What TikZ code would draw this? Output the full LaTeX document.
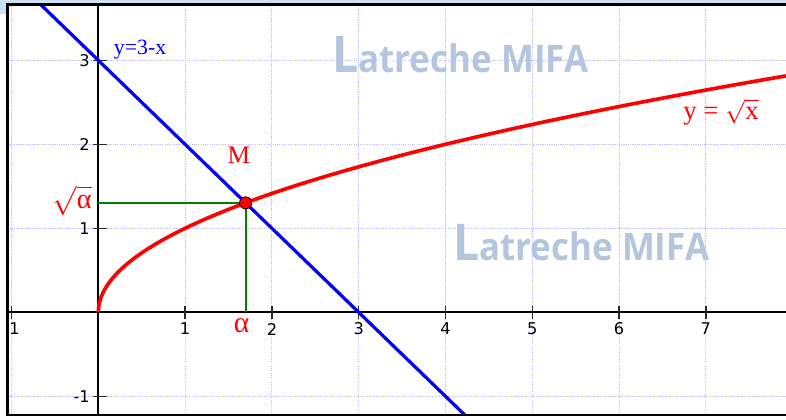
\documentclass[tikz,border=0pt]{standalone}
\usepackage{fontspec}
\setmainfont{Liberation Serif}
\newfontfamily\tickfont{DejaVu Sans}
\newfontfamily\wmfont{Open Sans}
\definecolor{gridc}{RGB}{190,190,250}
\definecolor{topblue}{RGB}{205,225,245}
\definecolor{wmc}{RGB}{180,198,221}
\definecolor{tickc}{RGB}{40,40,40}
\definecolor{greenc}{RGB}{0,128,0}
\tikzset{
  gridline/.style={draw=gridc, line width=0.8pt, dash pattern=on 0.8pt off 0.8pt},
  axisline/.style={draw=black, line width=1.4pt},
  tickline/.style={draw=tickc, line width=1pt},
  ticklab/.style={font=\tickfont\fontsize{11.5}{13}\selectfont, text=black, inner sep=0pt},
  wmark/.style={text=wmc, inner sep=0pt, anchor=base west, font=\wmfont\bfseries, xscale=0.92},
  frameline/.style={draw=black, line width=1.8pt},
  redlab/.style={text=red, inner sep=0pt},
}
\begin{document}
\begin{tikzpicture}[x=2.17cm,y=2.1cm]
\useasboundingbox (-1.1325,-1.2702) rectangle (7.923,3.718);
\fill[white] (-1.1325,-1.2702) rectangle (7.923,3.718);
\fill[topblue] (-1.1325,3.672) rectangle (7.923,3.718);
\fill[topblue] (-1.1325,3.551) rectangle (-1.056,3.718);
\begin{scope}
\clip (-1.046,-1.2226) rectangle (7.923,3.664);
% watermarks
\node[wmark] (wm1) at (2.692,2.849) {\fontsize{36}{36}\selectfont L\fontsize{27}{27}\selectfont atreche MIFA};
\node[wmark] (wm2) at (4.085,0.6226) {\fontsize{36}{36}\selectfont L\fontsize{27}{27}\selectfont atreche MIFA};
% grid
\foreach \k in {-1,...,7} \draw[gridline] (\k,-1.24) -- (\k,3.67);
\foreach \k in {-1,1,2,3} \draw[gridline] (-1.05,\k) -- (7.93,\k);
% axes
\coordinate (xl) at (-1.05,0);
\coordinate (xr) at (7.93,0);
\coordinate (yb) at (0,-1.24);
\coordinate (yt) at (0,3.67);
\draw[axisline] (xl) -- (xr);
\draw[axisline] (yb) -- (yt);
% ticks and labels
\foreach \k in {-1,1,2,3,4,5,6,7} {
  \draw[tickline] (\k,-0.077) -- (\k,0.077);
  \node[ticklab] (xt\k) at (\k,-0.199) {\k};
}
\foreach \k in {-1,1,2,3} {
  \draw[tickline] (-0.06,\k) -- (0.1,\k);
  \node[ticklab, anchor=east] (yt\k) at (-0.0956,\k) {\k};
}
% curves
\coordinate (L1) at (-0.75,3.75);
\coordinate (L2) at (4.35,-1.35);
\draw[blue, line width=2.3pt] (L1) -- (L2);
\draw[red, line width=2.6pt] plot[domain=0:2.816, samples=120, smooth] ({\x*\x},{\x});
% point M and projections
\coordinate (M) at (1.6972,1.3028);
\coordinate (Mx) at (1.6972,0);
\coordinate (My) at (0,1.3028);
\draw[greenc, line width=1.4pt] (Mx) -- (M);
\draw[greenc, line width=1.4pt] (My) -- (M);
\node[circle, fill=red, draw=black!75!red, line width=0.7pt, minimum size=0.3cm, inner sep=0pt] (Mdot) at (M) {};
% labels
\node[text=blue, inner sep=0pt, font=\fontsize{15.5}{15.5}\selectfont] (lab1) at (0.4816,3.123) {y=3-x};
\node[redlab, font=\fontsize{18}{18}\selectfont] (labM) at (1.621,1.873) {M};
\node[redlab, font=\fontsize{20}{20}\selectfont, anchor=east] (labsa) at (-0.0726,1.33) {$\sqrt{\mbox{α}}$};
\node[redlab, font=\fontsize{21}{21}\selectfont] (laba) at (1.650,-0.16) {α};
\node[redlab, font=\fontsize{19}{19}\selectfont] (labf) at (7.174,2.385) {y = $\sqrt{\mbox{x}}$};
\end{scope}
% frame
\coordinate (f1) at (7.93,3.664);
\coordinate (f2) at (-1.046,3.664);
\coordinate (f3) at (-1.046,-1.2226);
\coordinate (f4) at (7.93,-1.2226);
\draw[frameline] (f1) -- (f2) -- (f3) -- (f4);
\end{tikzpicture}
\end{document}
